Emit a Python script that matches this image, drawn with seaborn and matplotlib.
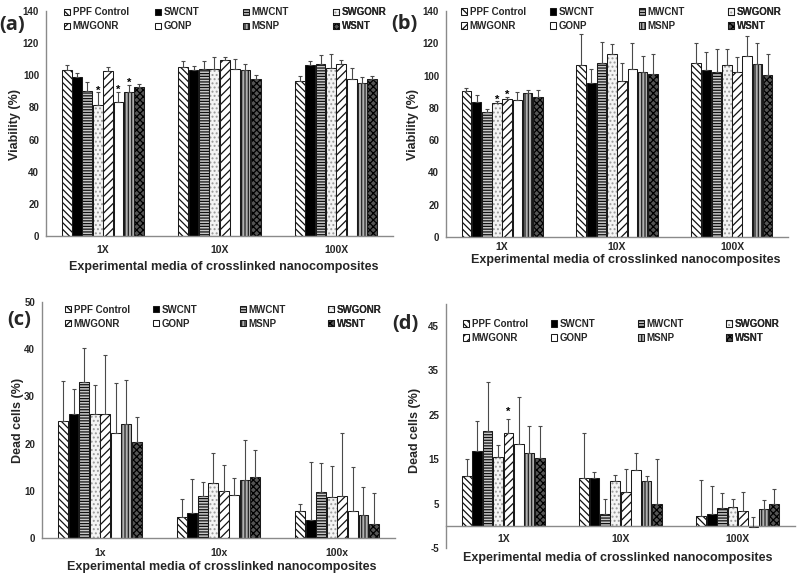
import numpy as np
import pandas as pd
import matplotlib
matplotlib.use("Agg")
import matplotlib.pyplot as plt
import matplotlib.patches as mpatches
import matplotlib.colors as mcolors
import seaborn as sns

# ---------------- data ----------------
materials = ["PPF Control", "SWCNT", "MWCNT", "SWGONR", "MWGONR", "GONP", "MSNP", "WSNT"]
groups_X = ["1X", "10X", "100X"]
groups_x = ["1x", "10x", "100x"]

# panel (a) viability, rows = materials, cols = 1X, 10X, 100X
a_mean = [[103.5, 105.4, 96.5], [98.8, 103.3, 106.2], [90.5, 104.0, 107.0], [81.3, 103.7, 104.8],
          [102.5, 109.5, 107.3], [83.6, 104.2, 98.0], [89.8, 103.3, 95.0], [92.8, 98.0, 97.5]]
a_err = [[3.0, 3.5, 3.0], [2.5, 2.5, 2.5], [5.5, 5.0, 5.5], [8.0, 7.5, 8.3],
         [2.5, 2.0, 2.0], [6.2, 6.0, 6.5], [4.2, 3.5, 3.8], [2.0, 2.2, 2.0]]
a_star = [(3, 0), (5, 0), (6, 0)]

# panel (b) viability
b_mean = [[90.7, 106.6, 107.6], [83.5, 95.3, 103.7], [77.3, 108.0, 102.5], [82.9, 113.2, 106.6],
          [85.6, 96.7, 102.3], [85.0, 103.9, 112.4], [89.5, 102.5, 107.0], [86.6, 101.0, 100.4]]
b_err = [[1.5, 19.2, 12.4], [4.5, 8.6, 10.7], [1.9, 12.6, 13.8], [1.1, 6.4, 9.7],
         [1.4, 11.3, 9.5], [5.1, 16.1, 11.9], [1.6, 9.7, 13.0], [4.5, 12.2, 13.0]]
b_star = [(3, 0), (4, 0)]

# panel (c) dead cells
c_mean = [[24.8, 4.5, 5.8], [26.2, 5.4, 3.8], [33.0, 8.8, 9.8], [26.2, 11.7, 8.6],
          [26.3, 10.0, 9.0], [22.2, 9.2, 5.7], [24.2, 12.3, 4.8], [20.3, 12.9, 3.0]]
c_err = [[8.4, 3.8, 1.3], [5.4, 7.1, 12.4], [7.2, 3.0, 6.0], [6.2, 6.3, 6.7],
         [12.5, 5.5, 13.2], [10.7, 3.6, 9.3], [9.3, 8.4, 6.0], [5.3, 5.8, 6.6]]
c_star = []

# panel (d) dead cells
d_mean = [[11.3, 10.75, 2.1], [16.8, 10.75, 2.6], [21.4, 2.6, 4.1], [15.5, 10.0, 4.2],
          [21.0, 7.6, 3.4], [18.5, 12.6, -0.3], [16.5, 10.1, 3.8], [15.3, 5.0, 5.0]]
d_err = [[3.7, 10.2, 8.2], [6.8, 1.3, 6.3], [10.9, 3.5, 3.2], [2.7, 1.4, 1.9],
         [3.1, 5.3, 4.1], [10.5, 3.9, 2.2], [5.9, 1.1, 2.0], [7.1, 10.0, 3.2]]
d_star = [(4, 0)]

# ---------------- styles ----------------
styles = {
    "PPF Control": dict(face="white", hatch="\\\\\\\\\\", hc="#111111"),
    "SWCNT": dict(face="black", hatch=None, hc="black"),
    "MWCNT": dict(face="#c8c8c8", hatch="------", hc="#111111"),
    "SWGONR": dict(face="#f4f4f4", hatch="....", hc="#9a9a9a"),
    "MWGONR": dict(face="white", hatch="////", hc="#111111"),
    "GONP": dict(face="white", hatch=None, hc="black"),
    "MSNP": dict(face="#b0b0b0", hatch="|||||", hc="#222222"),
    "WSNT": dict(face="#555555", hatch="xxxxx", hc="#000000"),
}

sns.set_style("white")
plt.rcParams["font.family"] = ["Liberation Sans", "DejaVu Sans"]
plt.rcParams["font.weight"] = "bold"
plt.rcParams["hatch.linewidth"] = 0.9
plt.rcParams["axes.unicode_minus"] = False

fig = plt.figure(figsize=(8, 5.81), dpi=100)

SPINE = "#8a8a8a"


def style_patch(p, m):
    st = styles[m]
    p.set_facecolor(st["face"])
    p.set_edgecolor("#1a1a1a")
    p.set_linewidth(0.75)
    if st["hatch"]:
        p.set_hatch(st["hatch"])
        p._hatch_color = mcolors.to_rgba(st["hc"])
    p.stale = True


def make_handle(m):
    p = mpatches.Patch()
    style_patch(p, m)
    return p


def draw_panel(rect, means, errs, groups, stars, ylim, yticks, legend_x, legend_y,
               star_off, zero_axis=False, xpad=7):
    ax = fig.add_axes(rect)
    rows = []
    for i, m in enumerate(materials):
        for j, g in enumerate(groups):
            rows.append(dict(group=g, material=m, value=means[i][j], err=errs[i][j]))
    df = pd.DataFrame(rows)
    sns.barplot(data=df, x="group", y="value", hue="material", order=groups,
                hue_order=materials, width=0.71, gap=0.06, errorbar=None,
                legend=False, ax=ax)
    bars = [b for cont in ax.containers for b in cont]
    by_group = {}
    for b in bars:
        cx = b.get_x() + b.get_width() / 2
        by_group.setdefault(int(round(cx)), []).append(b)
    for j, lst in by_group.items():
        lst.sort(key=lambda b: b.get_x())
        for i, b in enumerate(lst):
            style_patch(b, materials[i])
            cx = b.get_x() + b.get_width() / 2
            v = means[i][j]
            e = errs[i][j]
            ax.errorbar([cx], [v], yerr=[[0], [e]], fmt="none", ecolor="#4a4a4a",
                        elinewidth=0.8, capsize=1.6, capthick=0.8, zorder=3)
            if (i, j) in stars:
                ax.annotate("*", (cx, v + e), xytext=(0, star_off),
                            textcoords="offset points", ha="center", va="baseline",
                            fontsize=8, fontweight="bold", color="black")
    ax.set_ylim(*ylim)
    ax.set_yticks(yticks)
    ax.set_xlabel("")
    ax.set_ylabel("")
    for s in ["top", "right"]:
        ax.spines[s].set_visible(False)
    for s in ["left", "bottom"]:
        ax.spines[s].set_color(SPINE)
        ax.spines[s].set_linewidth(1.0)
    if zero_axis:
        ax.spines["bottom"].set_position(("data", 0))
    ax.tick_params(axis="y", direction="out", length=3, width=0.8, color=SPINE,
                   labelsize=7, pad=2)
    ax.tick_params(axis="x", length=0, labelsize=7.5, pad=xpad)
    for t in ax.get_yticklabels() + ax.get_xticklabels():
        t.set_fontweight("bold")
    # legend: 4 columns x 2 rows
    for c in range(4):
        idx = [c, c + 4]
        leg = ax.legend([make_handle(materials[k]) for k in idx], [materials[k] for k in idx],
                        loc="center left", bbox_to_anchor=(legend_x[c], legend_y),
                        frameon=False, borderpad=0, borderaxespad=0, handlelength=0.6,
                        handleheight=0.6, handletextpad=0.3, labelspacing=0.42,
                        prop={"weight": "bold", "size": 7})
        ax.add_artist(leg)
    return ax


# panel (a)
draw_panel([46 / 800, 1 - 236 / 581, 347 / 800, 225 / 581], a_mean, a_err, groups_X, a_star,
           (0, 140), np.arange(0, 141, 20), [0.052, 0.314, 0.567, 0.827], 0.964, -1, xpad=6.5)
# panel (b)
draw_panel([446 / 800, 1 - 237 / 581, 342 / 800, 226 / 581], b_mean, b_err, groups_X, b_star,
           (0, 140), np.arange(0, 141, 20), [0.044, 0.304, 0.564, 0.824], 0.965, -1, xpad=3.5)
# panel (c)
draw_panel([42 / 800, 1 - 538 / 581, 353 / 800, 236 / 581], c_mean, c_err, groups_x, c_star,
           (0, 50), np.arange(0, 51, 10), [0.065, 0.314, 0.561, 0.810], 0.938, -1, xpad=7.5)
# panel (d)
draw_panel([446 / 800, 1 - 548 / 581, 349 / 800, 244.2 / 581], d_mean, d_err, groups_X, d_star,
           (-5, 50), np.arange(-5, 46, 10), [0.048, 0.301, 0.550, 0.802], 0.889, 3,
           zero_axis=True, xpad=6)

# axis titles
xl = "Experimental media of crosslinked nanocomposites"
fig.text(224 / 800, 1 - 267 / 581, xl, ha="center", va="center", fontsize=9, fontweight="bold")
fig.text(626 / 800, 1 - 260 / 581, xl, ha="center", va="center", fontsize=9, fontweight="bold")
fig.text(222 / 800, 1 - 567 / 581, xl, ha="center", va="center", fontsize=9, fontweight="bold")
fig.text(618 / 800, 1 - 558 / 581, xl, ha="center", va="center", fontsize=9, fontweight="bold")
fig.text(15 / 800, 1 - 125 / 581, "Viability (%)", rotation=90, ha="center", va="center",
         fontsize=9, fontweight="bold")
fig.text(413 / 800, 1 - 125 / 581, "Viability (%)", rotation=90, ha="center", va="center",
         fontsize=9, fontweight="bold")
fig.text(18 / 800, 1 - 420 / 581, "Dead cells (%)", rotation=90, ha="center", va="center",
         fontsize=9, fontweight="bold")
fig.text(415 / 800, 1 - 430 / 581, "Dead cells (%)", rotation=90, ha="center", va="center",
         fontsize=9, fontweight="bold")

# panel letters
for s, x, y in [("(a)", 12, 25), ("(b)", 404, 24), ("(c)", 19, 320), ("(d)", 405, 324)]:
    fig.text(x / 800, 1 - y / 581, s, ha="center", va="center", fontsize=14.5,
             fontweight="bold", family=["Open Sans", "DejaVu Sans"])

fig.savefig("out.png", dpi=100)
